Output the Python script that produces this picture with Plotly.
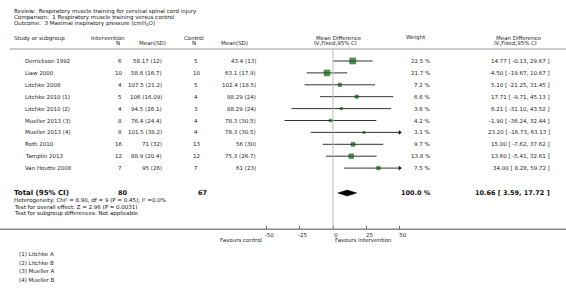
import plotly.graph_objects as go

# ---------------- data ----------------
studies = ["Derrickson 1992", "Liaw 2000", "Litchke 2008", "Litchke 2010 (1)", "Litchke 2010 (2)",
           "Mueller 2013 (3)", "Mueller 2013 (4)", "Roth 2010", "Tamplin 2013", "Van Houtte 2008"]
int_n = [6, 10, 4, 5, 4, 8, 8, 16, 12, 7]
int_mean = [58.17, 58.6, 107.5, 106, 94.5, 76.4, 101.5, 71, 88.9, 95]
int_sd = [12, 16.7, 21.2, 16.09, 26.1, 24.4, 38.2, 32, 20.4, 26]
ctl_n = [5, 10, 5, 4, 3, 4, 4, 13, 12, 7]
ctl_mean = [43.4, 63.1, 102.4, 88.29, 88.29, 78.3, 78.3, 56, 75.3, 61]
ctl_sd = [13, 17.9, 18.5, 24, 24, 30.5, 30.5, 30, 26.7, 23]
md = [14.77, -4.50, 5.10, 17.71, 6.21, -1.90, 23.20, 15.00, 13.60, 34.00]
md_lo = [-0.13, -19.67, -21.25, -9.71, -31.10, -36.24, -16.73, -7.62, -5.41, 8.28]
md_hi = [29.67, 10.67, 31.45, 45.13, 43.52, 32.44, 63.13, 37.62, 32.61, 59.72]
weight = [22.5, 21.7, 7.2, 6.6, 3.6, 4.2, 3.1, 9.7, 13.8, 7.5]

total_int_n = 80
total_ctl_n = 67
total_md, total_lo, total_hi = 10.66, 3.59, 17.72
total_weight = 100.0

axis_ticks = [-50, -25, 0, 25, 50]
axis_min, axis_max = -50, 50

title_lines = ["Review:  Respiratory muscle training for cervical spinal cord injury",
               "Comparison:  1 Respiratory muscle training versus control",
               "Outcome:  3 Maximal inspiratory pressure (cmH<sub>2</sub>O)"]
stat_lines = ["Heterogeneity: Chi² = 8.90, df = 9 (P = 0.45); I² =0.0%",
              "Test for overall effect: Z = 2.96 (P = 0.0031)",
              "Test for subgroup differences: Not applicable"]
footnotes = ["(1) Litchke A", "(2) Litchke B", "(3) Mueller A", "(4) Mueller B"]
favours_left = "Favours control"
favours_right = "Favours intervention"

# ---------------- layout geometry ----------------
W, H = 566, 291
ZERO_PX = 333.0
PX_PER_UNIT = 33.4 / 25.0
x_range = [(0 - ZERO_PX) / PX_PER_UNIT, (W - ZERO_PX) / PX_PER_UNIT]
ROW0, ROWSTEP = 61.0, 11.9
row_y = [ROW0 + ROWSTEP * i for i in range(len(studies))]
TOTAL_Y = 193
AXIS_Y = 229
HEADER_LINE_Y = 49

FONT = "DejaVu Sans"
FS = 5.5
TXT = "#222222"

fig = go.Figure()

# CI lines (clipped to axis limits)
cx, cy = [], []
arrow_x, arrow_y = [], []
for y, lo, hi in zip(row_y, md_lo, md_hi):
    cx += [max(lo, axis_min), min(hi, axis_max), None]
    cy += [y, y, None]
    if hi > axis_max:
        arrow_x.append(axis_max); arrow_y.append(y)
fig.add_trace(go.Scatter(x=cx, y=cy, mode="lines", line=dict(color="#333333", width=1),
                         hoverinfo="skip", showlegend=False))
fig.add_trace(go.Scatter(x=arrow_x, y=arrow_y, mode="markers",
                         marker=dict(symbol="triangle-right", size=4, color="#111111"),
                         hoverinfo="skip", showlegend=False))
# squares
sizes = [max(2.0, 1.25 * w ** 0.5) for w in weight]
fig.add_trace(go.Scatter(x=md, y=row_y, mode="markers",
                         marker=dict(symbol="square", size=sizes, color="#006b00",
                                     line=dict(color="#003000", width=0.6)),
                         hoverinfo="skip", showlegend=False))
# diamond
fig.add_trace(go.Scatter(x=[total_lo, total_md, total_hi, total_md, total_lo],
                         y=[TOTAL_Y, TOTAL_Y - 3, TOTAL_Y, TOTAL_Y + 3, TOTAL_Y],
                         mode="lines", fill="toself", fillcolor="black",
                         line=dict(color="black", width=0.5), hoverinfo="skip", showlegend=False))

ann = []


def txt(x, y, s, anchor="left", size=FS, bold=False, color=TXT):
    if bold:
        s = "<b>" + s + "</b>"
    ann.append(dict(x=x / W, y=y, xref="paper", yref="y", text=s, showarrow=False,
                    xanchor=anchor, yanchor="middle",
                    font=dict(family=FONT, size=size, color=color)))


for i, s in enumerate(title_lines):
    txt(12, 11 + 6 * i, s, color="#111111")

# column headers
txt(12, 38, "Study or subgroup")
txt(89, 38, "Intervention")
txt(118, 43, "N", anchor="center")
txt(137, 43, "Mean(SD)")
txt(182, 38, "Control")
txt(194, 43, "N", anchor="center")
txt(219, 43, "Mean(SD)")
txt(339, 37.5, "Mean Difference", anchor="center")
txt(335, 42.5, "IV,Fixed,95% CI", anchor="center")
txt(416, 37.5, "Weight", anchor="center")
txt(519, 37.5, "Mean Difference", anchor="center")
txt(515, 42.5, "IV,Fixed,95% CI", anchor="center")

# rows
for i, y in enumerate(row_y):
    txt(23, y, studies[i])
    txt(124, y, str(int_n[i]), anchor="right")
    txt(164, y, f"{int_mean[i]:g} ({int_sd[i]:g})", anchor="right")
    txt(196, y, str(ctl_n[i]), anchor="center")
    txt(258, y, f"{ctl_mean[i]:g} ({ctl_sd[i]:g})", anchor="right")
    txt(432, y, f"{weight[i]:.1f} %", anchor="right")
    txt(552, y, f"{md[i]:.2f} [ {md_lo[i]:.2f}, {md_hi[i]:.2f} ]", anchor="right")

# total
txt(12, TOTAL_Y, "Total (95% CI)", size=7, bold=True, color="#111111")
txt(123, TOTAL_Y, str(total_int_n), anchor="center", size=6.5, bold=True, color="#111111")
txt(202, TOTAL_Y, str(total_ctl_n), anchor="center", size=6.5, bold=True, color="#111111")
txt(433, TOTAL_Y, f"{total_weight:.1f} %", anchor="right", size=6.5, bold=True, color="#111111")
txt(552, TOTAL_Y, f"{total_md:.2f} [ {total_lo:.2f}, {total_hi:.2f} ]", anchor="right",
    size=6.5, bold=True, color="#111111")
for i, s in enumerate(stat_lines):
    txt(12, 200 + 6.5 * i, s, color="#111111")

txt(265, 240, favours_left, anchor="right")
txt(333, 240, favours_right, anchor="left")

for i, s in enumerate(footnotes):
    txt(17, 254 + 8.7 * i, s)

shapes = [
    dict(type="line", xref="paper", yref="y", x0=10 / W, x1=1, y0=HEADER_LINE_Y, y1=HEADER_LINE_Y,
         line=dict(color="#999999", width=1.2)),
    dict(type="line", xref="x", yref="y", x0=0, x1=0, y0=HEADER_LINE_Y, y1=AXIS_Y,
         line=dict(color="#bbbbbb", width=1)),
    dict(type="line", xref="paper", yref="y", x0=0, x1=1, y0=AXIS_Y, y1=AXIS_Y,
         line=dict(color="#888888", width=1.2)),
]

fig.update_layout(
    width=W, height=H, margin=dict(l=0, r=0, t=0, b=0),
    paper_bgcolor="white", plot_bgcolor="white",
    annotations=ann, shapes=shapes, showlegend=False,
    xaxis=dict(range=x_range, domain=[0, 1], anchor="free", position=(H - AXIS_Y) / H,
               showline=True, linecolor="#888888", linewidth=1,
               tickvals=axis_ticks, ticktext=[str(t) for t in axis_ticks],
               ticks="inside", ticklen=3, tickcolor="#666666",
               tickfont=dict(family=FONT, size=FS, color=TXT), ticklabelshift=3,
               showgrid=False, zeroline=False, fixedrange=True),
    yaxis=dict(range=[H, 0], domain=[0, 1], visible=False, showgrid=False,
               zeroline=False, fixedrange=True),
)

fig.write_html("out.html", config={"displayModeBar": False},
               post_script="document.body.style.margin='0';document.body.style.overflow='hidden';")
